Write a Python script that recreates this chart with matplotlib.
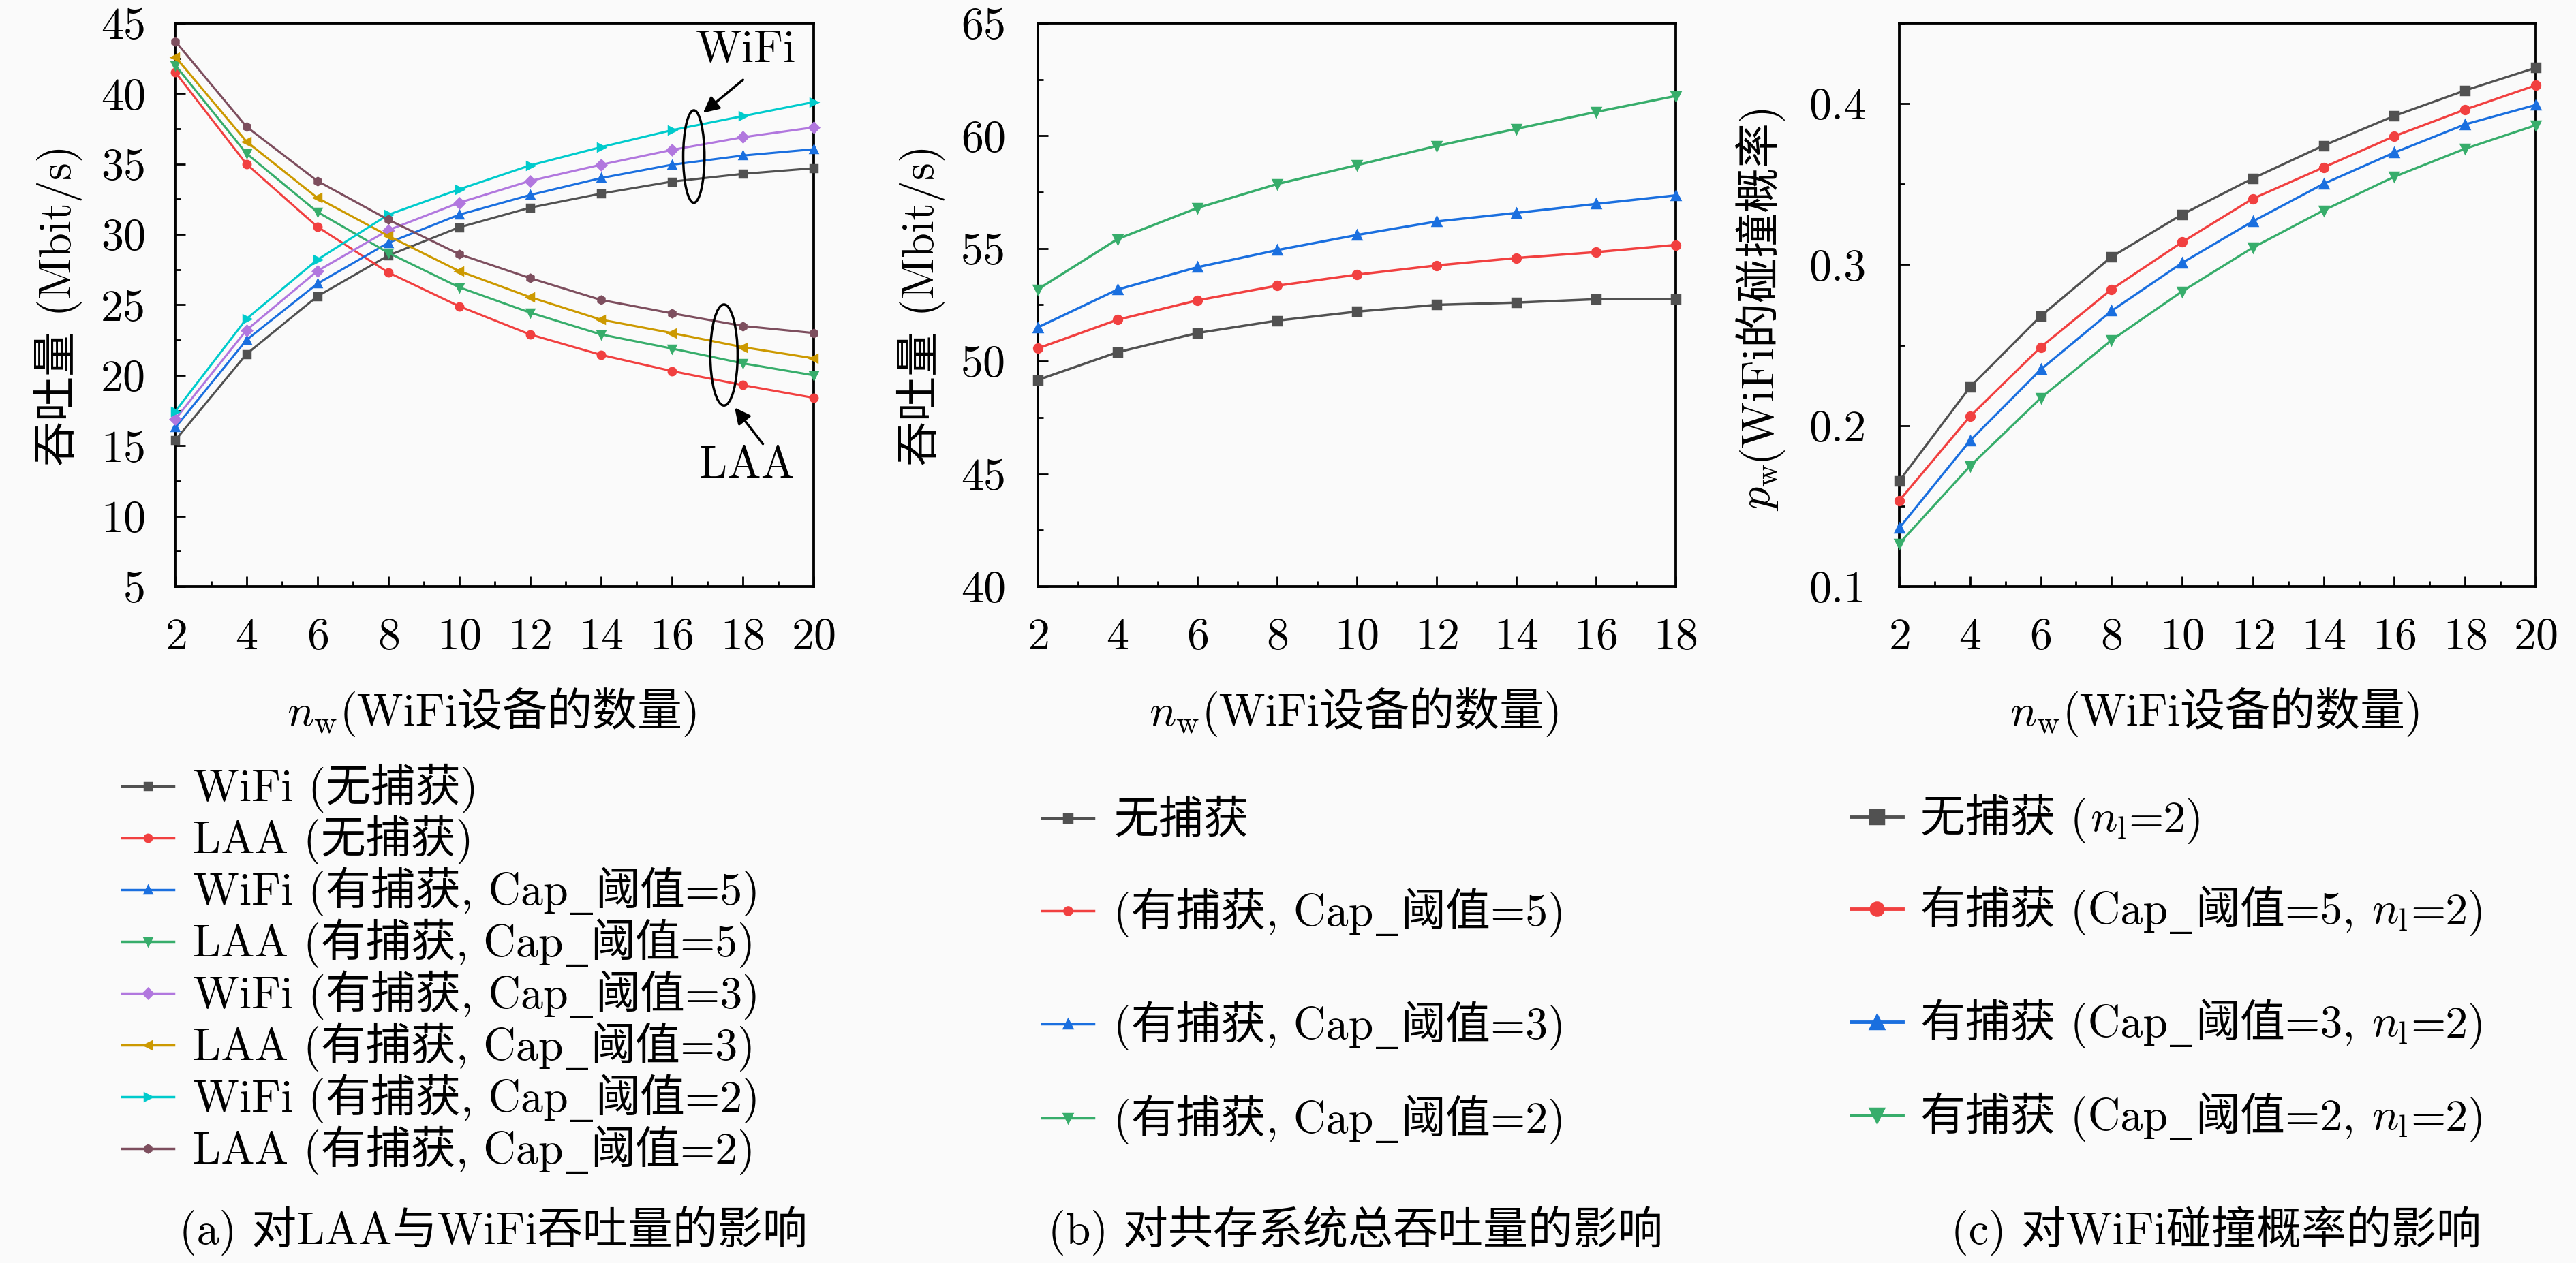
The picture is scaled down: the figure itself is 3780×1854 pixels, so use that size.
import matplotlib
matplotlib.use('Agg')
import matplotlib.pyplot as plt
from matplotlib.lines import Line2D
from matplotlib.patches import Ellipse
from matplotlib.ticker import MultipleLocator, FormatStrFormatter
from matplotlib.transforms import IdentityTransform

FAM = ['cmr10', 'Noto Sans CJK SC']
plt.rcParams['font.family'] = FAM
plt.rcParams['mathtext.fontset'] = 'cm'
plt.rcParams['axes.unicode_minus'] = False
plt.rcParams['axes.formatter.use_mathtext'] = True

# ---- data ----
nw_a = [2, 4, 6, 8, 10, 12, 14, 16, 18, 20]
wifi_nocap = [15.4, 21.5, 25.6, 28.5, 30.5, 31.9, 32.9, 33.75, 34.3, 34.7]
laa_nocap = [41.5, 35.0, 30.55, 27.3, 24.9, 22.9, 21.45, 20.3, 19.3, 18.4]
wifi_cap5 = [16.3, 22.5, 26.5, 29.4, 31.4, 32.8, 34.0, 34.95, 35.6, 36.05]
laa_cap5 = [42.0, 35.75, 31.6, 28.7, 26.25, 24.45, 22.9, 21.9, 20.85, 20.0]
wifi_cap3 = [16.9, 23.2, 27.4, 30.3, 32.25, 33.8, 34.95, 36.0, 36.9, 37.6]
laa_cap3 = [42.6, 36.6, 32.6, 29.9, 27.4, 25.55, 23.95, 23.0, 22.0, 21.2]
wifi_cap2 = [17.45, 24.0, 28.2, 31.4, 33.2, 34.9, 36.2, 37.4, 38.4, 39.4]
laa_cap2 = [43.7, 37.65, 33.8, 31.05, 28.6, 26.9, 25.35, 24.4, 23.5, 23.0]

nw_b = [2, 4, 6, 8, 10, 12, 14, 16, 18]
tot_nocap = [49.17, 50.4, 51.25, 51.8, 52.2, 52.5, 52.6, 52.75, 52.75]
tot_cap5 = [50.57, 51.84, 52.7, 53.35, 53.84, 54.25, 54.58, 54.84, 55.16]
tot_cap3 = [51.5, 53.18, 54.17, 54.93, 55.6, 56.2, 56.58, 56.98, 57.36]
tot_cap2 = [53.19, 55.42, 56.8, 57.86, 58.7, 59.55, 60.31, 61.06, 61.77]

nw_c = [2, 4, 6, 8, 10, 12, 14, 16, 18, 20]
pw_nocap = [0.1656, 0.2239, 0.268, 0.3048, 0.3312, 0.3536, 0.374, 0.3924, 0.4082, 0.4223]
pw_cap5 = [0.1534, 0.2057, 0.2487, 0.2846, 0.314, 0.341, 0.3604, 0.3798, 0.3963, 0.4114]
pw_cap3 = [0.1364, 0.1906, 0.2348, 0.2712, 0.3011, 0.3269, 0.3502, 0.3696, 0.3871, 0.3992]
pw_cap2 = [0.1267, 0.1748, 0.2171, 0.253, 0.2834, 0.3106, 0.3337, 0.3546, 0.372, 0.3866]

labels_a = ['WiFi (无捕获)', 'LAA (无捕获)',
            'WiFi (有捕获, Cap_阈值=5)', 'LAA (有捕获, Cap_阈值=5)',
            'WiFi (有捕获, Cap_阈值=3)', 'LAA (有捕获, Cap_阈值=3)',
            'WiFi (有捕获, Cap_阈值=2)', 'LAA (有捕获, Cap_阈值=2)']
labels_b = ['无捕获', '(有捕获, Cap_阈值=5)', '(有捕获, Cap_阈值=3)', '(有捕获, Cap_阈值=2)']
labels_c = [r'无捕获 ($n_\mathrm{l}$=2)', r'有捕获 (Cap_阈值=5, $n_\mathrm{l}$=2)',
            r'有捕获 (Cap_阈值=3, $n_\mathrm{l}$=2)', r'有捕获 (Cap_阈值=2, $n_\mathrm{l}$=2)']
xlabel = r'$n_\mathrm{w}$(WiFi设备的数量)'
ylabel_ab = '吞吐量 (Mbit/s)'
ylabel_c = r'$p_\mathrm{w}$(WiFi的碰撞概率)'
captions = ['(a) 对LAA与WiFi吞吐量的影响', '(b) 对共存系统总吞吐量的影响', '(c) 对WiFi碰撞概率的影响']

# Origin "bright" colours and default symbols
colors8 = ['#515151', '#F14040', '#1A6FDF', '#37AD6B', '#B177DE', '#CC9900', '#00CBCC', '#7D4E5E']
markers8 = ['s', 'o', '^', 'v', 'D', '<', '>', 'h']

W, H, DPI = 3780, 1854, 250
FS = 19
BG = '#fafafa'
fig = plt.figure(figsize=(W / DPI, H / DPI), dpi=DPI, facecolor=BG)


def split_rich(s):
    """split a label into plain text, math and underscore pieces"""
    parts = []
    for i, seg in enumerate(s.split('$')):
        if i % 2:
            parts.append('$' + seg + '$')
            continue
        for j, sub in enumerate(seg.split('_')):
            if j:
                parts.append(('_',))
            if not sub:
                continue
            lead = len(sub) - len(sub.lstrip(' '))
            trail = len(sub) - len(sub.rstrip(' '))
            core = sub.strip(' ')
            if lead:
                parts.append(0.33 * lead)
            if core:
                parts.append(core)
            if trail:
                parts.append(0.33 * trail)
    return parts


def rich_text(x, y, s, size=FS, center=False, vertical=False):
    """draw s piece by piece on a common baseline (pixel coords)"""
    r = fig.canvas.get_renderer()
    em = size * DPI / 72
    items = []
    for p in split_rich(s):
        if isinstance(p, float):
            items.append((None, p * em))
            continue
        fam = FAM
        if isinstance(p, tuple):
            p, fam = p[0], ['DejaVu Serif']
        t = fig.text(0, 0, p, transform=IdentityTransform(), fontsize=size, family=fam,
                     rotation=90 if vertical else 0, rotation_mode='anchor',
                     ha='left', va='baseline')
        bb = t.get_window_extent(r)
        items.append((t, (bb.height if vertical else bb.width) + 0.05 * em))
    total = sum(w for _, w in items)
    pos = (y if vertical else x) - (total / 2 if center else 0)
    for t, w in items:
        if t is not None:
            t.set_position((x, pos) if vertical else (pos, y))
        pos += w


def style_axes(ax, xlim, ylim, ymaj, yfmt, ypad):
    ax.set_facecolor(BG)
    ax.set_xlim(*xlim)
    ax.set_ylim(*ylim)
    ax.xaxis.set_major_locator(MultipleLocator(2))
    ax.xaxis.set_minor_locator(MultipleLocator(1))
    ax.yaxis.set_major_locator(MultipleLocator(ymaj))
    ax.yaxis.set_minor_locator(MultipleLocator(ymaj / 2))
    ax.yaxis.set_major_formatter(FormatStrFormatter(yfmt))
    ax.tick_params(which='both', direction='in', top=False, right=False,
                   labelsize=FS, width=0.8)
    ax.tick_params(which='major', length=4.3)
    ax.tick_params(which='minor', length=2.2)
    ax.tick_params(axis='x', pad=13)
    ax.tick_params(axis='y', pad=ypad)
    for sp in ax.spines.values():
        sp.set_linewidth(1.1)


def legend_rows(x0, x1, xt, rows_top, labels, ms, lw):
    for yt, lab, c, m in zip(rows_top, labels, colors8, markers8):
        y = H - yt
        fig.add_artist(Line2D([x0, x1], [y, y], transform=IdentityTransform(), color=c, lw=lw))
        fig.add_artist(Line2D([(x0 + x1) / 2], [y], transform=IdentityTransform(), color=c,
                              marker=m, ms=ms, ls='none'))
        rich_text(xt, y - 22, lab)


bottom, height = 0.5356, 0.44606
ax_a = fig.add_axes([0.06812, bottom, 0.24775, height])
ax_b = fig.add_axes([0.40291, bottom, 0.24762, height])
ax_c = fig.add_axes([0.73730, bottom, 0.24709, height])

# (a) LAA and WiFi throughput
series_a = [wifi_nocap, laa_nocap, wifi_cap5, laa_cap5, wifi_cap3, laa_cap3, wifi_cap2, laa_cap2]
for ys, c, m in zip(series_a, colors8, markers8):
    ax_a.plot(nw_a, ys, color=c, marker=m, ms=3.0, lw=0.9, clip_on=False, zorder=3)
style_axes(ax_a, (2, 20), (5, 45), 5, '%d', 12.5)

ax_a.add_patch(Ellipse((16.62, 35.53), 0.6, 6.56, fill=False, ec='k', lw=1.0, zorder=4))
ax_a.add_patch(Ellipse((17.47, 21.44), 0.77, 7.17, fill=False, ec='k', lw=1.0, zorder=4))
ax_a.annotate('', xy=(16.78, 38.42), xytext=(18.11, 41.19),
              arrowprops=dict(arrowstyle='-|>', color='k', lw=1.0, mutation_scale=14))
ax_a.annotate('', xy=(17.69, 17.97), xytext=(18.65, 14.86),
              arrowprops=dict(arrowstyle='-|>', color='k', lw=1.0, mutation_scale=14))
ax_a.text(18.08, 43.1, 'WiFi', fontsize=FS, ha='center', va='center')
ax_a.text(18.11, 13.56, 'LAA', fontsize=FS, ha='center', va='center')

# (b) total throughput of the coexistence system
for ys, c, m in zip([tot_nocap, tot_cap5, tot_cap3, tot_cap2], colors8, markers8):
    ax_b.plot(nw_b, ys, color=c, marker=m, ms=3.4, lw=1.0, clip_on=False, zorder=3)
style_axes(ax_b, (2, 18), (40, 65), 5, '%d', 13.5)

# (c) WiFi collision probability
for ys, c, m in zip([pw_nocap, pw_cap5, pw_cap3, pw_cap2], colors8, markers8):
    ax_c.plot(nw_c, ys, color=c, marker=m, ms=3.4, lw=0.95, clip_on=False, zorder=3)
style_axes(ax_c, (2, 20), (0.1, 0.45), 0.1, '%.1f', 14)

# axis labels and captions, pixel layout
ax_centres = [726, 1991, 3254]
for xc in ax_centres:
    rich_text(xc, H - 1065, xlabel, center=True)
rich_text(104, H - 447, ylabel_ab, center=True, vertical=True)
rich_text(1370, H - 447, ylabel_ab, center=True, vertical=True)
rich_text(2597, H - 447, ylabel_c, center=True, vertical=True)
for xc, cap in zip(ax_centres, captions):
    rich_text(xc, 28, cap, center=True)

legend_rows(179, 255, 283, [1154 + 76 * k for k in range(8)], labels_a, 3.0, 1.0)
legend_rows(1529, 1605, 1634, [1201, 1337, 1503, 1641], labels_b, 3.2, 1.0)
legend_rows(2716, 2792, 2818, [1199, 1334, 1500, 1637], labels_c, 5.5, 1.4)

fig.savefig('out.png', dpi=DPI, facecolor=BG)
